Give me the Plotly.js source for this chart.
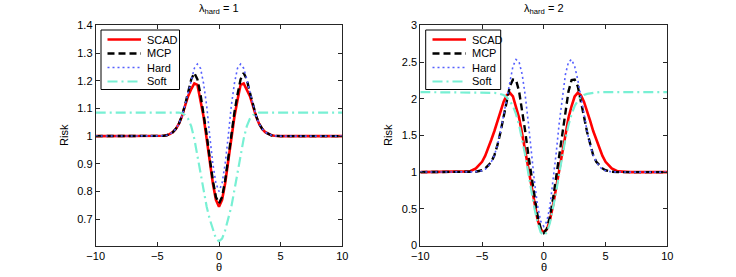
<!DOCTYPE html>
<html>
<head>
<meta charset="utf-8">
<script src="https://cdn.plot.ly/plotly-3.0.1.min.js"></script>
<style>html,body{margin:0;padding:0;background:#fff;}#chart{width:736px;height:277px;}</style>
</head>
<body>
<div id="chart"></div>
<script>
// theta grid (shared by all series)
var theta = [-10,-8,-7,-6.5,-6,-5.5,-5,-4.75,-4.5,-4.25,-4,-3.75,-3.5,-3.25,-3,-2.75,-2.5,-2.25,-2,-1.75,-1.5,-1.25,-1,-0.75,-0.5,-0.25,
  0,0.25,0.5,0.75,1,1.25,1.5,1.75,2,2.25,2.5,2.75,3,3.25,3.5,3.75,4,4.25,4.5,4.75,5,5.5,6,6.5,7,8,10];

// lambda_hard = 1
var scad1 = [1,1,1,1,1,1,1,1,1.001,1.003,1.007,1.014,1.026,1.045,1.072,1.11,1.145,1.17,1.19,1.185,1.13,1.07,0.99,0.91,0.83,0.77,
  0.745,0.77,0.83,0.91,0.99,1.07,1.13,1.185,1.19,1.17,1.145,1.11,1.072,1.045,1.026,1.014,1.007,1.003,1.001,1,1,1,1,1,1,1,1];
var mcp1 = [1,1,1,1,1,1,1,1,1.001,1.003,1.007,1.014,1.026,1.045,1.074,1.113,1.158,1.205,1.228,1.205,1.15,1.085,1.005,0.92,0.84,0.78,
  0.757,0.78,0.84,0.92,1.005,1.085,1.15,1.205,1.228,1.205,1.158,1.113,1.074,1.045,1.026,1.014,1.007,1.003,1.001,1,1,1,1,1,1,1,1];
var hard1 = [1,1,1,1,1,1,1,1,1.001,1.003,1.007,1.014,1.026,1.045,1.074,1.113,1.16,1.205,1.245,1.26,1.245,1.19,1.11,1.0,0.9,0.83,
  0.8,0.83,0.9,1.0,1.11,1.19,1.245,1.26,1.245,1.205,1.16,1.113,1.074,1.045,1.026,1.014,1.007,1.003,1.001,1,1,1,1,1,1,1,1];
var soft1 = [1.085,1.085,1.085,1.085,1.085,1.085,1.085,1.085,1.085,1.085,1.085,1.085,1.085,1.085,1.082,1.076,1.062,1.035,0.99,0.93,0.865,0.805,0.745,0.7,0.66,0.63,
  0.62,0.63,0.66,0.7,0.745,0.805,0.865,0.93,0.99,1.035,1.062,1.076,1.082,1.085,1.085,1.085,1.085,1.085,1.085,1.085,1.085,1.085,1.085,1.085,1.085,1.085,1.085];

// lambda_hard = 2
var scad2 = [1,1,1,1,1.01,1.05,1.14,1.22,1.32,1.44,1.56,1.7,1.84,1.96,2.05,2.08,2.03,1.9,1.74,1.52,1.28,1.03,0.78,0.55,0.35,0.22,
  0.18,0.22,0.35,0.55,0.78,1.03,1.28,1.52,1.74,1.9,2.03,2.08,2.05,1.96,1.84,1.7,1.56,1.44,1.32,1.22,1.14,1.05,1.01,1,1,1,1];
var mcp2 = [1,1,1,1,1,1.005,1.025,1.05,1.09,1.14,1.23,1.37,1.55,1.76,1.98,2.17,2.26,2.255,2.1,1.85,1.55,1.23,0.93,0.64,0.4,0.23,
  0.17,0.23,0.4,0.64,0.93,1.23,1.55,1.85,2.1,2.255,2.26,2.17,1.98,1.76,1.55,1.37,1.23,1.14,1.09,1.05,1.025,1.005,1,1,1,1,1];
var hard2 = [1,1,1,1,1.001,1.004,1.019,1.039,1.076,1.14,1.23,1.37,1.56,1.78,2.03,2.26,2.44,2.535,2.5,2.33,2.04,1.67,1.255,0.86,0.54,0.33,
  0.26,0.33,0.54,0.86,1.255,1.67,2.04,2.33,2.5,2.535,2.44,2.26,2.03,1.78,1.56,1.37,1.23,1.14,1.076,1.039,1.019,1.004,1.001,1,1,1,1];
var soft2 = [2.09,2.09,2.09,2.09,2.09,2.09,2.09,2.09,2.09,2.085,2.08,2.075,2.065,2.05,2.02,1.97,1.9,1.79,1.64,1.45,1.23,0.98,0.73,0.5,0.31,0.18,
  0.14,0.18,0.31,0.5,0.73,0.98,1.23,1.45,1.64,1.79,1.9,1.97,2.02,2.05,2.065,2.075,2.08,2.085,2.09,2.09,2.09,2.09,2.09,2.09,2.09,2.09,2.09];

var seriesNames = ['SCAD','MCP','Hard','Soft'];
var titles = ['\u03bb<sub>hard</sub> = 1', '\u03bb<sub>hard</sub> = 2'];
var xTicks = [-10,-5,0,5,10];
var xTickText = ['\u221210','\u22125','0','5','10'];
var yTicks1 = [0.7,0.8,0.9,1,1.1,1.2,1.3,1.4];
var yTicks2 = [0,0.5,1,1.5,2,2.5,3];

var styles = [
  {color:'#ff0000', width:2.6, dash:'solid'},
  {color:'#000000', width:2.4, dash:'7px,4px'},
  {color:'rgb(85,95,255)', width:1.6, dash:'2px,3px'},
  {color:'#78f0d4', width:2.2, dash:'10px,4px,2px,4px'}
];

var data = [];
var sets = [[scad1,mcp1,hard1,soft1],[scad2,mcp2,hard2,soft2]];
sets.forEach(function(set, p){
  set.forEach(function(vals, i){
    data.push({
      x: theta, y: vals, type:'scatter', mode:'lines', name: seriesNames[i],
      xaxis: p===0 ? 'x' : 'x2', yaxis: p===0 ? 'y' : 'y2',
      line: {color: styles[i].color, width: styles[i].width, dash: styles[i].dash},
      hoverinfo:'skip', showlegend:false
    });
  });
});

var W = 736, H = 277;
function px(x){ return x/W; }
function py(y){ return 1 - y/H; }

var font = {family:'Liberation Sans, Arial, Helvetica, sans-serif', size:11, color:'#000'};
function ax(extra){
  var a = {showline:true, mirror:'ticks', linecolor:'#262626', linewidth:1, ticks:'inside', ticklen:4,
    tickcolor:'#262626', showgrid:false, zeroline:false, tickfont:font, fixedrange:true};
  for (var k in extra) a[k]=extra[k];
  return a;
}

// hand-built legends (compact, MATLAB style)
var shapes = [], annotations = [];
var legends = [
  {box:[101, 30, 179.5, 89.5], line:[107.5, 141], text:145},
  {box:[425.7, 30, 500.7, 89.5], line:[432.5, 466], text:469.5}
];
var rowY = [39.5, 53.5, 67.5, 81.5];
legends.forEach(function(L){
  shapes.push({type:'rect', xref:'paper', yref:'paper', x0:px(L.box[0]), x1:px(L.box[2]), y0:py(L.box[1]), y1:py(L.box[3]),
    fillcolor:'#fff', line:{color:'#000', width:1}, layer:'above'});
  seriesNames.forEach(function(n, i){
    shapes.push({type:'line', xref:'paper', yref:'paper', x0:px(L.line[0]), x1:px(L.line[1]), y0:py(rowY[i]), y1:py(rowY[i]),
      line:{color:styles[i].color, width:styles[i].width, dash:styles[i].dash}, layer:'above'});
    annotations.push({text:n, x:px(L.text), y:py(rowY[i]), xref:'paper', yref:'paper', showarrow:false,
      xanchor:'left', yanchor:'middle', font:font});
  });
});

var c1 = (95.7+342.3)/2, c2 = (420.3+667.3)/2;
annotations.push(
  {text:titles[0], x:px(c1), y:py(9), xref:'paper', yref:'paper', showarrow:false, xanchor:'center', yanchor:'middle', font:font},
  {text:titles[1], x:px(c2), y:py(9), xref:'paper', yref:'paper', showarrow:false, xanchor:'center', yanchor:'middle', font:font},
  {text:'\u03b8', x:px(c1), y:py(267), xref:'paper', yref:'paper', showarrow:false, xanchor:'center', yanchor:'middle', font:font},
  {text:'\u03b8', x:px(c2), y:py(267), xref:'paper', yref:'paper', showarrow:false, xanchor:'center', yanchor:'middle', font:font},
  {text:'Risk', x:px(64), y:py(135), xref:'paper', yref:'paper', showarrow:false, xanchor:'center', yanchor:'middle', textangle:-90, font:font},
  {text:'Risk', x:px(388), y:py(135), xref:'paper', yref:'paper', showarrow:false, xanchor:'center', yanchor:'middle', textangle:-90, font:font}
);

var yb = py(245.5), yt = py(25.3);
var layout = {
  width:W, height:H, margin:{l:0,r:0,t:0,b:0}, paper_bgcolor:'#fff', plot_bgcolor:'#fff',
  font: font, showlegend:false,
  xaxis: ax({domain:[px(95.7), px(342.3)], range:[-10,10], tickvals:xTicks, ticktext:xTickText, anchor:'y'}),
  yaxis: ax({domain:[yb, yt], range:[0.605,1.4], tickvals:yTicks1, anchor:'x'}),
  xaxis2: ax({domain:[px(420.3), px(667.3)], range:[-10,10], tickvals:xTicks, ticktext:xTickText, anchor:'y2'}),
  yaxis2: ax({domain:[yb, yt], range:[0,3], tickvals:yTicks2, anchor:'x2'}),
  shapes: shapes,
  annotations: annotations
};
Plotly.newPlot('chart', data, layout, {staticPlot:true, displayModeBar:false});
</script>
</body>
</html>
